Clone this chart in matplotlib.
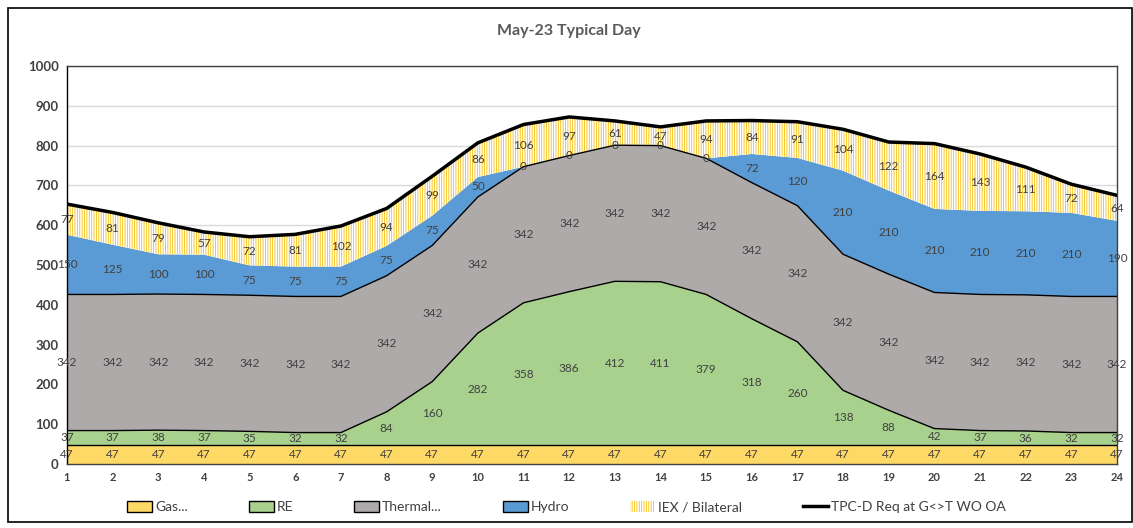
import numpy as np
import matplotlib
matplotlib.use("Agg")
import matplotlib.pyplot as plt
from matplotlib.patches import Patch, Rectangle
from matplotlib.lines import Line2D

plt.rcParams["font.family"] = ["Lato", "DejaVu Sans"]
plt.rcParams["hatch.linewidth"] = 0.6

HOURS = list(range(1, 25))
GAS = [47] * 24
RE = [37, 37, 38, 37, 35, 32, 32, 84, 160, 282, 358, 386,
      412, 411, 379, 318, 260, 138, 88, 42, 37, 36, 32, 32]
THERMAL = [342] * 24
HYDRO = [150, 125, 100, 100, 75, 75, 75, 75, 75, 50, 0, 0,
         0, 0, 0, 72, 120, 210, 210, 210, 210, 210, 210, 190]
IEX = [77, 81, 79, 57, 72, 81, 102, 94, 99, 86, 106, 97,
       61, 47, 94, 84, 91, 104, 122, 164, 143, 111, 72, 64]
REQ = [653, 632, 606, 583, 571, 577, 598, 642, 723, 807, 853, 872,
       862, 847, 862, 863, 860, 841, 809, 805, 779, 746, 703, 675]

C_GAS = "#FFD966"
C_RE = "#A9D18E"
C_TH = "#AEAAAA"
C_HY = "#5B9BD5"
C_IEX = "#F5BE0A"
TXT = "#404040"

fig = plt.figure(figsize=(11.33, 5.28), dpi=100)
ax = fig.add_axes([67 / 1133, 64 / 528, 1050 / 1133, 398 / 528])

x = np.array(HOURS)
series = [(GAS, C_GAS, "k"), (RE, C_RE, "k"), (THERMAL, C_TH, "k"), (HYDRO, C_HY, C_HY)]
base = np.zeros(24)
for vals, col, ec in series:
    top = base + np.array(vals)
    ax.fill_between(x, base, top, facecolor=col, edgecolor="none", zorder=2)
    if ec == "k":
        ax.plot(x, top, color="k", lw=1.0, zorder=3)
    for xi, b, v in zip(x, base, vals):
        ax.text(xi, b + v / 2, str(v), ha="center", va="center", fontsize=8.5, color=TXT, zorder=6)
    base = top

# IEX / Bilateral band, hatched
top = base + np.array(IEX)
ax.fill_between(x, base, top, facecolor="white", edgecolor=C_IEX, hatch="|||||||", lw=0, zorder=2)
for xi, b, v in zip(x, base, IEX):
    ax.text(xi, b + v / 2, str(v), ha="center", va="center", fontsize=8.5, color=TXT, zorder=6)

ax.plot(x, REQ, color="k", lw=2.5, zorder=5)

ax.set_xlim(1, 24)
ax.set_ylim(0, 1000)
ax.set_xticks(HOURS)
ax.set_yticks(range(0, 1001, 100))
ax.tick_params(length=0, labelsize=8, colors="#404040", pad=6)
ax.tick_params(axis="y", labelsize=9.5)
for lab in ax.get_xticklabels() + ax.get_yticklabels():
    lab.set_fontweight("bold")
ax.grid(axis="y", color="#D9D9D9", lw=1, zorder=0)
ax.set_axisbelow(True)
for s in ax.spines.values():
    s.set_color("#404040")
    s.set_linewidth(1.0)
ax.spines["left"].set_color("k")

fig.text(569 / 1133, 1 - 31 / 528, "May-23 Typical Day", ha="center", va="center",
         fontsize=11.5, fontweight="bold", color="#595959")

handles = [
    Patch(facecolor=C_GAS, edgecolor="k", label="Gas..."),
    Patch(facecolor=C_RE, edgecolor="k", label="RE"),
    Patch(facecolor=C_TH, edgecolor="k", label="Thermal..."),
    Patch(facecolor=C_HY, edgecolor="k", label="Hydro"),
    Patch(facecolor="white", edgecolor=C_IEX, hatch="|||||||", lw=0, label="IEX / Bilateral"),
    Line2D([0], [0], color="k", lw=2.5, label="TPC-D Req at G<>T WO OA"),
]
fig.legend(handles=handles, loc="center", bbox_to_anchor=(0.5, 1 - 507 / 528), ncol=6,
           frameon=False, fontsize=10, handlelength=1.8, handleheight=0.9,
           handletextpad=0.2, columnspacing=4.4, labelcolor="#404040")

fig.add_artist(Rectangle((8 / 1133, 6 / 528), 1124 / 1133, 514 / 528, transform=fig.transFigure,
                         fill=False, edgecolor="k", lw=1.2))

fig.savefig("out.png", dpi=100)
